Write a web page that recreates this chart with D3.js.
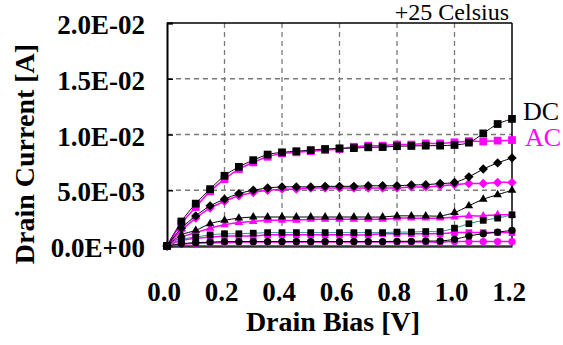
<!DOCTYPE html>
<html>
<head>
<meta charset="utf-8">
<style>
  body { margin: 0; background: #fff; }
  svg { display: block; }
</style>
<script src="https://cdn.jsdelivr.net/npm/d3@7"></script>
</head>
<body>
<svg id="plot" width="563" height="345"></svg>
<script>
// ---------- data ----------
const drainBias = [0, 0.05, 0.1, 0.15, 0.2, 0.25, 0.3, 0.35, 0.4, 0.45, 0.5, 0.55, 0.6,
                   0.65, 0.7, 0.75, 0.8, 0.85, 0.9, 0.95, 1.0, 1.05, 1.1, 1.15, 1.2];

const dcSquare  = [0, 0.0022, 0.0038, 0.0051, 0.0063, 0.0071, 0.0077, 0.0082, 0.0084, 0.0085, 0.0086, 0.0087, 0.00876,
                   0.00878, 0.00885, 0.00887, 0.00895, 0.00897, 0.0090, 0.0090, 0.00906, 0.00927, 0.0101, 0.01094, 0.0114];
const acSquare  = [0, 0.0020, 0.0035, 0.0049, 0.0060, 0.0069, 0.0075, 0.0080, 0.0083, 0.0084, 0.0085, 0.0086, 0.0087,
                   0.0089, 0.0090, 0.0090, 0.0091, 0.0091, 0.0092, 0.0092, 0.0093, 0.0094, 0.00937, 0.00945, 0.0095];

const dcDiamond = [0, 0.0016, 0.0027, 0.0036, 0.0042, 0.0047, 0.0050, 0.0052, 0.0053, 0.0053, 0.0053, 0.00535, 0.00535,
                   0.00535, 0.0054, 0.0054, 0.0054, 0.00547, 0.0055, 0.0056, 0.0057, 0.0062, 0.0069, 0.00745, 0.0079];
const acDiamond = [0, 0.0014, 0.0025, 0.0034, 0.0040, 0.0045, 0.0048, 0.0050, 0.0051, 0.0051, 0.0052, 0.0052, 0.0052,
                   0.0052, 0.0052, 0.0052, 0.0052, 0.0053, 0.0053, 0.0054, 0.0055, 0.0056, 0.0056, 0.0057, 0.0057];

const dcTriangle = [0, 0.0010, 0.0014, 0.0020, 0.0023, 0.0025, 0.0026, 0.0026, 0.0026, 0.0026, 0.0026, 0.0026, 0.0026,
                    0.0026, 0.0026, 0.0026, 0.0027, 0.0027, 0.0027, 0.0027, 0.0030, 0.0036, 0.0042, 0.0046, 0.0050];
const acTriangle = [0, 0.0008, 0.0012, 0.0016, 0.0019, 0.0021, 0.0022, 0.0023, 0.0023, 0.0023, 0.0024, 0.0024, 0.0024,
                    0.0024, 0.0024, 0.0024, 0.0025, 0.0025, 0.0025, 0.0025, 0.0026, 0.0027, 0.0027, 0.0028, 0.0028];

const dcSmallSq = [0, 0.0006, 0.0008, 0.0010, 0.0011, 0.0011, 0.00115, 0.0012, 0.0012, 0.0012, 0.0012, 0.0012, 0.0012,
                   0.0012, 0.0012, 0.0012, 0.00125, 0.00125, 0.0013, 0.0013, 0.0016, 0.0020, 0.0023, 0.0025, 0.0028];
const acSmallSq = [0, 0.0005, 0.0007, 0.0008, 0.0009, 0.0009, 0.0009, 0.0010, 0.0010, 0.0010, 0.0010, 0.0010, 0.0010,
                   0.0010, 0.0010, 0.0011, 0.0011, 0.0011, 0.0011, 0.0011, 0.0012, 0.0012, 0.0012, 0.0012, 0.0012];

const dcCircle  = [0, 0.0002, 0.0003, 0.00035, 0.0004, 0.0004, 0.0004, 0.0004, 0.0004, 0.0004, 0.0004, 0.0004, 0.0004,
                   0.0004, 0.0004, 0.0004, 0.00042, 0.00042, 0.00045, 0.00045, 0.0006, 0.0009, 0.0011, 0.00125, 0.0014];
const acCircle  = [0, 0.00015, 0.00025, 0.0003, 0.0003, 0.00035, 0.00035, 0.00035, 0.00035, 0.00035, 0.00035, 0.00035, 0.00035,
                   0.00035, 0.00035, 0.00035, 0.00035, 0.00035, 0.00035, 0.00035, 0.0004, 0.0004, 0.0004, 0.0004, 0.0004];

const xTicks = [0, 0.2, 0.4, 0.6, 0.8, 1.0, 1.2];
const xTickLabels = ["0.0", "0.2", "0.4", "0.6", "0.8", "1.0", "1.2"];
const yTicks = [0, 0.005, 0.01, 0.015, 0.02];
const yTickLabels = ["0.0E+00", "5.0E-03", "1.0E-02", "1.5E-02", "2.0E-02"];

// ---------- chart ----------
const FONT = '"Times New Roman"';
const svg = d3.select("#plot");
const L = 167, R = 512, T = 23, B = 246;
const x = d3.scaleLinear().domain([0, 1.2]).range([L, R]);
const y = d3.scaleLinear().domain([0, 0.02]).range([B, T]);

// gridlines
const grid = svg.append("g");
grid.selectAll("line.v").data(xTicks.slice(1, -1)).join("line")
  .attr("x1", d => x(d)).attr("x2", d => x(d)).attr("y1", T).attr("y2", B)
  .attr("stroke", "#7a7a7a").attr("stroke-width", 1.3).attr("stroke-dasharray", "5,4");
grid.selectAll("line.h").data(yTicks.slice(1, -1)).join("line")
  .attr("x1", L).attr("x2", R).attr("y1", d => y(d)).attr("y2", d => y(d))
  .attr("stroke", "#7a7a7a").attr("stroke-width", 1.3).attr("stroke-dasharray", "5,4");

// frame
svg.append("line").attr("x1", L).attr("x2", R).attr("y1", T).attr("y2", T).attr("stroke", "#000").attr("stroke-width", 1.5);
svg.append("line").attr("x1", R).attr("x2", R).attr("y1", T).attr("y2", B).attr("stroke", "#000").attr("stroke-width", 1.5);

// axes (lines only)
const yAxis = d3.axisLeft(y).tickValues(yTicks).tickSize(-6).tickFormat("");
svg.append("g").attr("transform", `translate(${L},0)`).call(yAxis)
  .call(g => g.select(".domain").attr("stroke-width", 2))
  .call(g => g.selectAll(".tick line").attr("stroke-width", 1.5));
const xAxis = d3.axisBottom(x).tickValues(xTicks).tickSize(0).tickFormat("");
svg.append("g").attr("transform", `translate(0,${B})`).call(xAxis)
  .call(g => g.select(".domain").attr("stroke", "#333").attr("stroke-width", 2.5));

// text
yTicks.forEach((d, i) => {
  svg.append("text").attr("x", 145).attr("y", y(d) + 11).attr("text-anchor", "end")
    .attr("font-size", 27).attr("font-weight", "bold")
    .style("font-family", FONT).text(yTickLabels[i]);
});
xTicks.forEach((d, i) => {
  svg.append("text").attr("x", x(d) - 3).attr("y", 301).attr("text-anchor", "middle")
    .attr("font-size", 27).attr("font-weight", "bold")
    .style("font-family", FONT).text(xTickLabels[i]);
});
svg.append("text").attr("transform", "translate(34,154) rotate(-90)").attr("text-anchor", "middle")
  .attr("font-size", 28).attr("font-weight", "bold")
  .style("font-family", FONT).text("Drain Current [A]");
svg.append("text").attr("x", 333).attr("y", 331).attr("text-anchor", "middle")
  .attr("font-size", 28).attr("font-weight", "bold")
  .style("font-family", FONT).text("Drain Bias [V]");
svg.append("text").attr("x", 509).attr("y", 20).attr("text-anchor", "end")
  .attr("font-size", 24).style("font-family", FONT).text("+25 Celsius");
svg.append("text").attr("x", 523).attr("y", 120)
  .attr("font-size", 26).attr("fill", "#000").style("font-family", FONT).text("DC");
svg.append("text").attr("x", 525).attr("y", 146)
  .attr("font-size", 26).attr("fill", "#ff00ff").style("font-family", FONT).text("AC");

// series
const MAG = "#ff00ff";
const shapes = {
  square:   { type: d3.symbolSquare,  size: 60, rot: 0 },
  diamond:  { type: d3.symbolSquare,  size: 44, rot: 45 },
  triangle: { type: d3.symbolTriangle, size: 32, rot: 0 },
  smallsq:  { type: d3.symbolSquare,  size: 45, rot: 0 },
  circle:   { type: d3.symbolCircle,  size: 42, rot: 0 }
};
const acSeries = [
  { v: acSquare, shape: "square", line: MAG },
  { v: acDiamond, shape: "diamond", line: MAG },
  { v: acTriangle, shape: "triangle", line: MAG },
  { v: acSmallSq, shape: "smallsq", line: MAG },
  { v: acCircle, shape: "circle", line: MAG }
];
const dcSeries = [
  { v: dcSquare, shape: "square", line: "#1a001a" },
  { v: dcDiamond, shape: "diamond", line: "#000" },
  { v: dcTriangle, shape: "triangle", line: "#000" },
  { v: dcSmallSq, shape: "smallsq", line: "#2a9090" },
  { v: dcCircle, shape: "circle", line: "#000" }
];
const lineGen = d3.line().x((d, i) => x(drainBias[i])).y(d => y(d)).curve(d3.curveCatmullRom.alpha(0.5));

function drawSeries(series, color, width) {
  const g = svg.append("g");
  series.forEach(s => {
    g.append("path").attr("d", lineGen(s.v)).attr("fill", "none")
      .attr("stroke", s.line).attr("stroke-width", width);
  });
  series.forEach(s => {
    const sh = shapes[s.shape];
    const sym = d3.symbol().type(sh.type).size(sh.size);
    g.append("g").selectAll("path").data(s.v).join("path")
      .attr("d", sym)
      .attr("transform", (d, i) => `translate(${x(drainBias[i])},${y(d)}) rotate(${sh.rot})`)
      .attr("fill", color);
  });
}
drawSeries(acSeries, MAG, 1.5);
drawSeries(dcSeries, "#000", 1);
</script>
</body>
</html>
